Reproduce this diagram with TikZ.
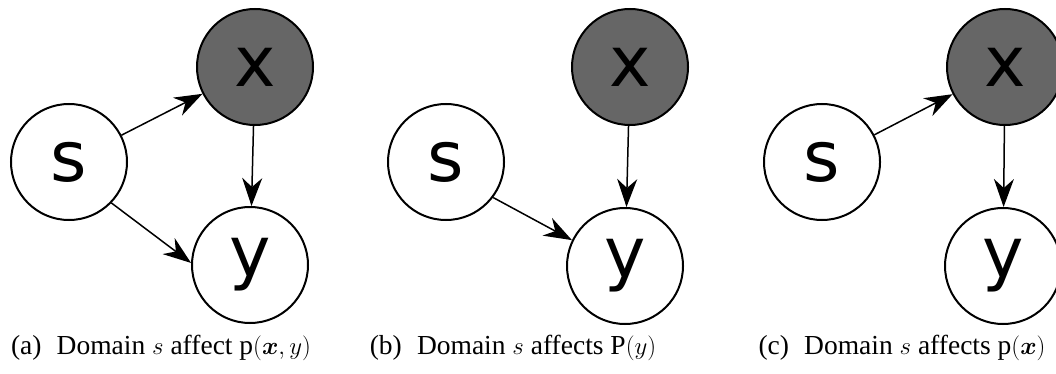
\documentclass[tikz,border=0pt]{standalone}
\usepackage{amsmath,bm}
\usepackage{fontspec}
\setmainfont{Liberation Serif}
\newfontfamily\djsans{DejaVu Sans}
\usetikzlibrary{arrows.meta}
\definecolor{gray60}{HTML}{666666}
\begin{document}
\begin{tikzpicture}[x=1pt,y=-1pt,
  var/.style={circle,draw=black,line width=2pt,minimum size=116pt,inner sep=0pt,fill=white,
    font=\djsans\fontsize{70}{70}\selectfont},
  obs/.style={var,fill=gray60},
  edge/.style={line width=1.5pt,-{Stealth[length=28pt,width=20pt,inset=9pt]}},
  captext/.style={font=\fontsize{27.5}{30}\selectfont,inner sep=0pt}]
\useasboundingbox (0,0) rectangle (1056,374);
% panel a
\node[var] (sa) at (69,162) {s};
\node[obs] (xa) at (255,67) {x};
\node[var] (ya) at (250,265) {y};
\draw[edge] (sa) -- (xa);
\draw[edge] (xa) -- (ya);
\draw[edge] (sa.-44) -- (ya.178);
\node[captext,anchor=base] (ca) at (161,354) {(a)\hspace{0.55em}Domain $s$ affect $\mathrm{p}(\bm{x},y)$};
% panel b
\node[var] (sb) at (446,162) {s};
\node[obs] (xb) at (630,67) {x};
\node[var] (yb) at (625,266) {y};
\draw[edge] (xb) -- (yb);
\draw[edge] (sb.-37) -- (yb.154);
\node[captext,anchor=base] (cb) at (513,354) {(b)\hspace{0.55em}Domain $s$ affects $\mathrm{P}(y)$};
% panel c
\node[var] (sc) at (822,162) {s};
\node[obs] (xc) at (1005,67) {x};
\node[var] (yc) at (1003,266) {y};
\draw[edge] (sc) -- (xc);
\draw[edge] (xc) -- (yc);
\node[captext,anchor=base] (cc) at (902,354) {(c)\hspace{0.55em}Domain $s$ affects $\mathrm{p}(\bm{x})$};
\end{tikzpicture}
\end{document}
